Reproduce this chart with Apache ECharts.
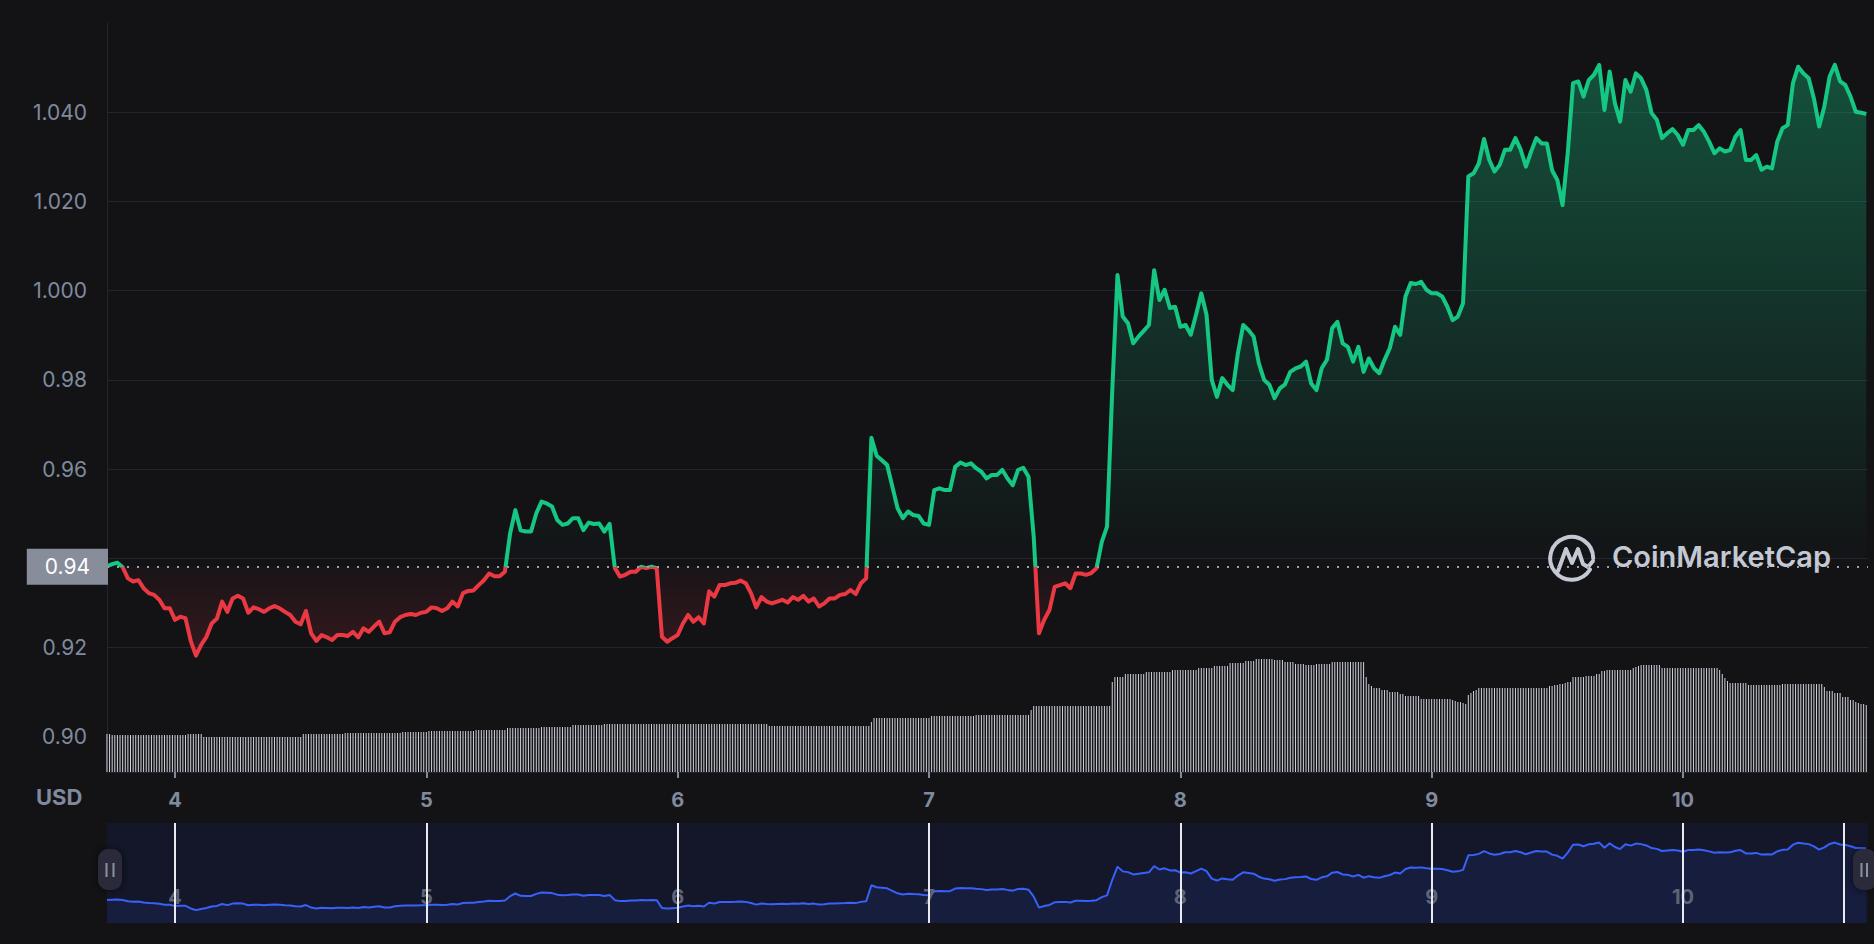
<!DOCTYPE html>
<html>
<head>
<meta charset="utf-8">
<script src="https://cdn.jsdelivr.net/npm/echarts@6/dist/echarts.min.js"></script>
<style>
html,body{margin:0;padding:0;background:#131316;}
#chart{width:1874px;height:944px;}
</style>
</head>
<body>
<div id="chart"></div>
<script>
// ---------------- DATA ----------------
// time is expressed in day-of-month; first sample = day 3, 17:30
const START_DAY = 3 + 17.5 / 24;
const PRICE_STEP = 1 / 48;   // 30-minute prices
const VOLUME_STEP = 1 / 96;  // 15-minute volume bars
const OPEN_PRICE = 0.9381;   // reference (opening) price shown on the axis

const price = [
0.9382,0.9387,0.9390,0.9380,0.9355,0.9348,0.9351,0.9333,0.9322,0.9318,
0.9307,0.9288,0.9288,0.9262,0.9269,0.9266,0.9215,0.9182,0.9206,0.9224,
0.9254,0.9265,0.9303,0.9280,0.9310,0.9316,0.9310,0.9278,0.9290,0.9286,
0.9280,0.9288,0.9293,0.9288,0.9280,0.9273,0.9258,0.9252,0.9282,0.9232,
0.9215,0.9228,0.9223,0.9217,0.9228,0.9228,0.9226,0.9235,0.9223,0.9243,
0.9235,0.9247,0.9258,0.9232,0.9234,0.9258,0.9268,0.9273,0.9275,0.9273,
0.9278,0.9280,0.9290,0.9288,0.9282,0.9288,0.9303,0.9292,0.9322,0.9327,
0.9328,0.9340,0.9351,0.9366,0.9360,0.9360,0.9370,0.9456,0.9508,0.9463,
0.9460,0.9460,0.9501,0.9527,0.9523,0.9516,0.9486,0.9475,0.9478,0.9490,
0.9490,0.9463,0.9480,0.9477,0.9478,0.9460,0.9477,0.9378,0.9359,0.9363,
0.9370,0.9370,0.9381,0.9378,0.9381,0.9378,0.9224,0.9213,0.9221,0.9228,
0.9254,0.9273,0.9258,0.9268,0.9254,0.9326,0.9314,0.9340,0.9340,0.9344,
0.9345,0.9350,0.9344,0.9322,0.9290,0.9313,0.9303,0.9299,0.9303,0.9307,
0.9301,0.9313,0.9307,0.9316,0.9303,0.9310,0.9292,0.9299,0.9310,0.9310,
0.9318,0.9320,0.9329,0.9320,0.9344,0.9355,0.9670,0.9630,0.9620,0.9609,
0.9561,0.9512,0.9490,0.9505,0.9497,0.9495,0.9478,0.9475,0.9553,0.9557,
0.9553,0.9553,0.9605,0.9615,0.9609,0.9613,0.9602,0.9594,0.9579,0.9587,
0.9587,0.9598,0.9579,0.9564,0.9598,0.9603,0.9583,0.9448,0.9232,0.9262,
0.9284,0.9336,0.9340,0.9344,0.9333,0.9366,0.9366,0.9363,0.9367,0.9378,
0.9437,0.9471,0.9777,1.0035,0.9942,0.9927,0.9882,0.9897,0.9910,0.9923,
1.0046,0.9979,1.0002,0.9961,0.9964,0.9919,0.9923,0.9901,0.9946,0.9994,
0.9946,0.9800,0.9762,0.9804,0.9789,0.9777,0.9860,0.9923,0.9912,0.9897,
0.9837,0.9800,0.9789,0.9759,0.9781,0.9790,0.9818,0.9826,0.9830,0.9841,
0.9792,0.9777,0.9826,0.9845,0.9916,0.9930,0.9882,0.9874,0.9841,0.9874,
0.9818,0.9848,0.9826,0.9815,0.9845,0.9871,0.9919,0.9901,0.9987,1.0017,
1.0015,1.0020,1.0002,0.9994,0.9994,0.9987,0.9964,0.9934,0.9942,0.9972,
1.0256,1.0263,1.0285,1.0340,1.0293,1.0267,1.0282,1.0316,1.0316,1.0342,
1.0316,1.0278,1.0312,1.0342,1.0330,1.0330,1.0270,1.0248,1.0192,1.0310,
1.0465,1.0469,1.0435,1.0472,1.0484,1.0506,1.0405,1.0491,1.0420,1.0379,
1.0472,1.0446,1.0487,1.0476,1.0450,1.0398,1.0383,1.0342,1.0353,1.0362,
1.0349,1.0327,1.0360,1.0360,1.0371,1.0356,1.0334,1.0308,1.0319,1.0312,
1.0315,1.0345,1.0360,1.0293,1.0293,1.0304,1.0271,1.0278,1.0274,1.0334,
1.0364,1.0371,1.0465,1.0502,1.0487,1.0476,1.0431,1.0368,1.0413,1.0480,
1.0506,1.0469,1.0461,1.0435,1.0401,1.0399,1.0396
];

// relative trading volume per 15 minutes (arbitrary units)
const volume = [
38,38,37,37,37,37,37,37,37,37,37,37,37,37,37,37,37,37,37,37,
37,37,37,37,37,37,37,37,37,37,37,38,38,38,38,38,38,35,35,35,
35,35,35,35,35,35,35,35,35,35,35,35,35,35,35,35,35,35,35,35,
35,35,35,35,35,35,35,35,35,35,35,35,35,35,35,38,38,38,38,38,
38,38,38,38,38,38,38,38,38,38,38,39,39,39,39,39,39,39,39,39,
39,39,39,39,39,39,39,39,39,39,39,39,39,40,40,40,40,40,40,40,
40,40,40,41,41,41,41,41,41,41,41,41,41,41,41,41,41,41,41,41,
41,42,42,42,42,42,42,42,42,42,42,42,42,44,44,44,44,44,44,44,
44,44,44,44,44,44,45,45,45,45,45,45,45,45,45,45,45,45,47,47,
47,47,47,47,47,47,47,47,47,47,48,48,48,48,48,48,48,48,48,48,
48,48,48,48,48,48,48,48,48,48,48,48,48,48,48,48,48,48,48,48,
48,48,48,48,48,48,48,48,48,48,48,48,48,48,48,48,48,48,48,48,
48,48,48,48,48,48,48,48,48,48,48,48,48,46,46,46,46,46,46,46,
46,46,46,46,46,46,46,46,46,46,46,46,46,46,46,46,46,46,46,46,
46,46,46,46,46,46,46,46,46,46,46,46,50,54,54,54,54,54,54,54,
54,54,54,54,54,54,54,54,54,54,54,54,54,54,54,56,56,56,56,56,
56,56,56,56,56,56,56,56,56,56,56,56,57,57,57,57,57,57,57,57,
57,57,57,57,57,57,57,57,57,57,57,57,57,62,66,66,66,66,66,66,
66,66,66,66,66,66,66,66,66,66,66,66,66,66,66,66,66,66,66,66,
66,66,66,66,90,95,95,95,95,98,98,98,98,98,98,98,98,100,100,100,
100,100,100,100,100,100,100,102,102,102,102,102,102,102,102,102,102,104,104,104,
104,104,104,106,106,106,106,106,106,109,109,109,109,109,109,111,111,111,111,113,
113,113,113,113,113,113,112,112,112,112,110,110,110,110,108,108,108,108,107,107,
107,107,108,108,108,108,108,108,110,110,110,110,110,110,110,110,110,110,110,110,
110,95,88,86,84,84,84,82,82,82,80,80,80,80,78,78,76,76,76,76,
76,76,73,73,73,73,73,73,73,73,73,73,73,73,72,71,70,70,69,68,
77,79,81,82,84,84,84,84,84,84,84,84,84,84,84,84,84,84,84,84,
84,84,84,84,84,84,84,84,84,84,84,86,86,87,87,88,88,89,90,90,
95,95,95,95,95,96,96,96,96,98,98,101,101,102,102,102,102,102,102,102,
102,102,102,104,105,106,107,107,107,107,107,107,107,107,104,104,104,104,104,104,
104,104,104,104,104,104,104,104,104,104,104,104,104,104,104,104,102,98,94,91,
89,89,89,89,89,89,89,87,87,87,87,87,87,87,87,87,87,87,87,87,
88,88,88,88,88,88,88,88,88,88,88,88,88,88,88,88,85,81,81,81,
79,79,79,75,75,75,72,72,70,69,68,68,67
];

const dayTicks = [4, 5, 6, 7, 8, 9, 10];
const sliderMarks = [4, 5, 6, 7, 8, 9, 10, 10.64];
const priceGridValues = [0.90, 0.92, 0.94, 0.96, 0.98, 1.00, 1.02, 1.04];
// 0.94 is covered by the opening-price tag, so its plain label is not drawn
const priceLabelValues = [0.90, 0.92, 0.96, 0.98, 1.00, 1.02, 1.04];
const priceLabelTexts = ['0.90', '0.92', '0.96', '0.98', '1.000', '1.020', '1.040'];

// ---------------- CHART ----------------
const X_MIN = 3.7294, X_MAX = 10.7361;
const Y_MIN = 0.8921, Y_MAX = 1.0600;
const VOL_AXIS_MAX = 748.7;
const FONT = 'Inter, "Noto Sans", sans-serif';

const GREEN = '#16c784', RED = '#ea3943', BLUE = '#3861fb';
const AXIS_TEXT = '#808a9d', GRID_LINE = '#222531';

const priceData = price.map((v, i) => [START_DAY + i * PRICE_STEP, v]);
const volData = volume.map((v, i) => [START_DAY + i * VOLUME_STEP, v]);

const maxP = Math.max(...price), minP = Math.min(...price);
const f = (maxP - OPEN_PRICE) / (maxP - minP);

const chart = echarts.init(document.getElementById('chart'), null, { renderer: 'svg' });

const option = {
  backgroundColor: '#131316',
  animation: false,
  grid: [
    { left: 107, right: 6, top: 23, bottom: 172, containLabel: false, outerBoundsMode: 'none' },
    { left: 107, right: 6, top: 823, bottom: 21, containLabel: false, outerBoundsMode: 'none',
      show: true, backgroundColor: '#141729', borderWidth: 0 }
  ],
  visualMap: {
    show: false, type: 'piecewise', seriesIndex: 0, dimension: 1,
    pieces: [{ gte: 0, lt: OPEN_PRICE, color: RED }, { gte: OPEN_PRICE, lte: 2, color: GREEN }],
    outOfRange: { color: GREEN }
  },
  xAxis: [
    { type: 'value', gridIndex: 0, min: X_MIN, max: X_MAX,
      axisLine: { show: true, lineStyle: { color: GRID_LINE, width: 1 } },
      axisTick: { show: true, customValues: dayTicks, length: 6, lineStyle: { color: AXIS_TEXT, width: 2 } },
      axisLabel: { customValues: dayTicks, color: AXIS_TEXT, fontSize: 20, fontWeight: 'bold', fontFamily: FONT, margin: 18 },
      splitLine: { show: false } },
    { type: 'value', gridIndex: 1, min: X_MIN, max: X_MAX, z: 3,
      axisLine: { show: false }, axisTick: { show: false },
      axisLabel: { customValues: dayTicks, inside: true, margin: 16, color: '#5e6478', fontSize: 20, fontWeight: 'bold', fontFamily: FONT },
      splitLine: { show: false } }
  ],
  yAxis: [
    { type: 'value', gridIndex: 0, min: Y_MIN, max: Y_MAX,
      axisLine: { show: true, lineStyle: { color: GRID_LINE, width: 1 } },
      axisTick: { show: false, customValues: priceGridValues },
      axisLabel: { customValues: priceLabelValues, color: AXIS_TEXT, fontSize: 21, fontFamily: FONT, margin: 20,
        formatter: v => { const k = priceLabelValues.findIndex(t => Math.abs(t - v) < 1e-6); return k >= 0 ? priceLabelTexts[k] : ''; } },
      splitLine: { show: true, lineStyle: { color: GRID_LINE, width: 1 } } },
    { type: 'value', gridIndex: 0, min: 0, max: VOL_AXIS_MAX, show: false, splitLine: { show: false } },
    { type: 'value', gridIndex: 1, min: 0.893, max: 1.089, show: false, splitLine: { show: false } }
  ],
  series: [
    { type: 'line', name: 'Price', xAxisIndex: 0, yAxisIndex: 0, data: priceData, z: 3,
      showSymbol: false, symbol: 'none',
      lineStyle: { width: 4, join: 'round' },
      areaStyle: {
        origin: OPEN_PRICE, opacity: 1,
        color: new echarts.graphic.LinearGradient(0, 0, 0, 1, [
          { offset: 0, color: 'rgba(22,199,132,0.34)' },
          { offset: f, color: 'rgba(22,199,132,0.0)' },
          { offset: Math.min(1, f + 0.0001), color: 'rgba(234,57,67,0.03)' },
          { offset: 1, color: 'rgba(234,57,67,0.16)' }
        ])
      },
      markLine: {
        silent: true, symbol: ['none', 'none'], precision: 6,
        lineStyle: { color: '#9aa0ad', type: [2, 8], width: 2 },
        label: { show: true, position: 'start', distance: -1, formatter: () => OPEN_PRICE.toFixed(2),
          color: '#ffffff', backgroundColor: '#878d9a', fontSize: 21, fontFamily: FONT,
          lineHeight: 22, padding: [7, 18, 7, 18] },
        emphasis: { disabled: true },
        data: [{ yAxis: OPEN_PRICE }]
      }
    },
    { type: 'bar', name: 'Volume', xAxisIndex: 0, yAxisIndex: 1, data: volData, z: 1,
      barWidth: 1, itemStyle: { color: '#d0d3dc' }, silent: true },
    { type: 'line', name: 'Overview', xAxisIndex: 1, yAxisIndex: 2, data: priceData, z: 1,
      showSymbol: false, symbol: 'none',
      lineStyle: { color: BLUE, width: 2 },
      areaStyle: { color: '#161d3d', opacity: 1, origin: 'start' },
      markLine: {
        silent: true, symbol: ['none', 'none'], label: { show: false }, precision: 6,
        lineStyle: { color: '#e8eaf0', width: 2, type: 'solid' },
        emphasis: { disabled: true },
        data: sliderMarks.map(d => ({ xAxis: d }))
      }
    }
  ],
  graphic: [
    { type: 'text', left: 36, top: 786, z: 10,
      style: { text: 'USD', fill: AXIS_TEXT, font: 'bold 22px ' + FONT } },
    // watermark
    { type: 'arc', z: 1, shape: { cx: 1571.7, cy: 558.3, r: 21.5, startAngle: 0.55, endAngle: Math.PI * 2 },
      style: { stroke: '#c5c9d3', lineWidth: 4, fill: null, lineCap: 'round' } },
    { type: 'polyline', z: 1, shape: { points: [[1558, 571], [1566, 549], [1572, 563], [1578, 549], [1583, 564], [1588, 567], [1593, 561]] },
      style: { stroke: '#c5c9d3', lineWidth: 4, fill: null, lineJoin: 'round', lineCap: 'round' } },
    { type: 'text', z: 1, left: 1612, top: 542,
      style: { text: 'CoinMarketCap', fill: '#c5c9d3', font: '600 29px ' + FONT } },
    // slider handles
    { type: 'rect', z: 20, shape: { x: 98, y: 849, width: 24, height: 41, r: 10 },
      style: { fill: '#292c3a', shadowBlur: 8, shadowColor: 'rgba(0,0,0,0.6)' } },
    { type: 'rect', z: 21, shape: { x: 105.5, y: 863, width: 2, height: 14 }, style: { fill: '#8a90a0' } },
    { type: 'rect', z: 21, shape: { x: 112.5, y: 863, width: 2, height: 14 }, style: { fill: '#8a90a0' } },
    { type: 'rect', z: 20, shape: { x: 1853, y: 849, width: 24, height: 41, r: 10 },
      style: { fill: '#292c3a', shadowBlur: 8, shadowColor: 'rgba(0,0,0,0.6)' } },
    { type: 'rect', z: 21, shape: { x: 1860.5, y: 863, width: 2, height: 14 }, style: { fill: '#8a90a0' } },
    { type: 'rect', z: 21, shape: { x: 1866, y: 863, width: 2, height: 14 }, style: { fill: '#8a90a0' } }
  ]
};

chart.setOption(option);
</script>
</body>
</html>
